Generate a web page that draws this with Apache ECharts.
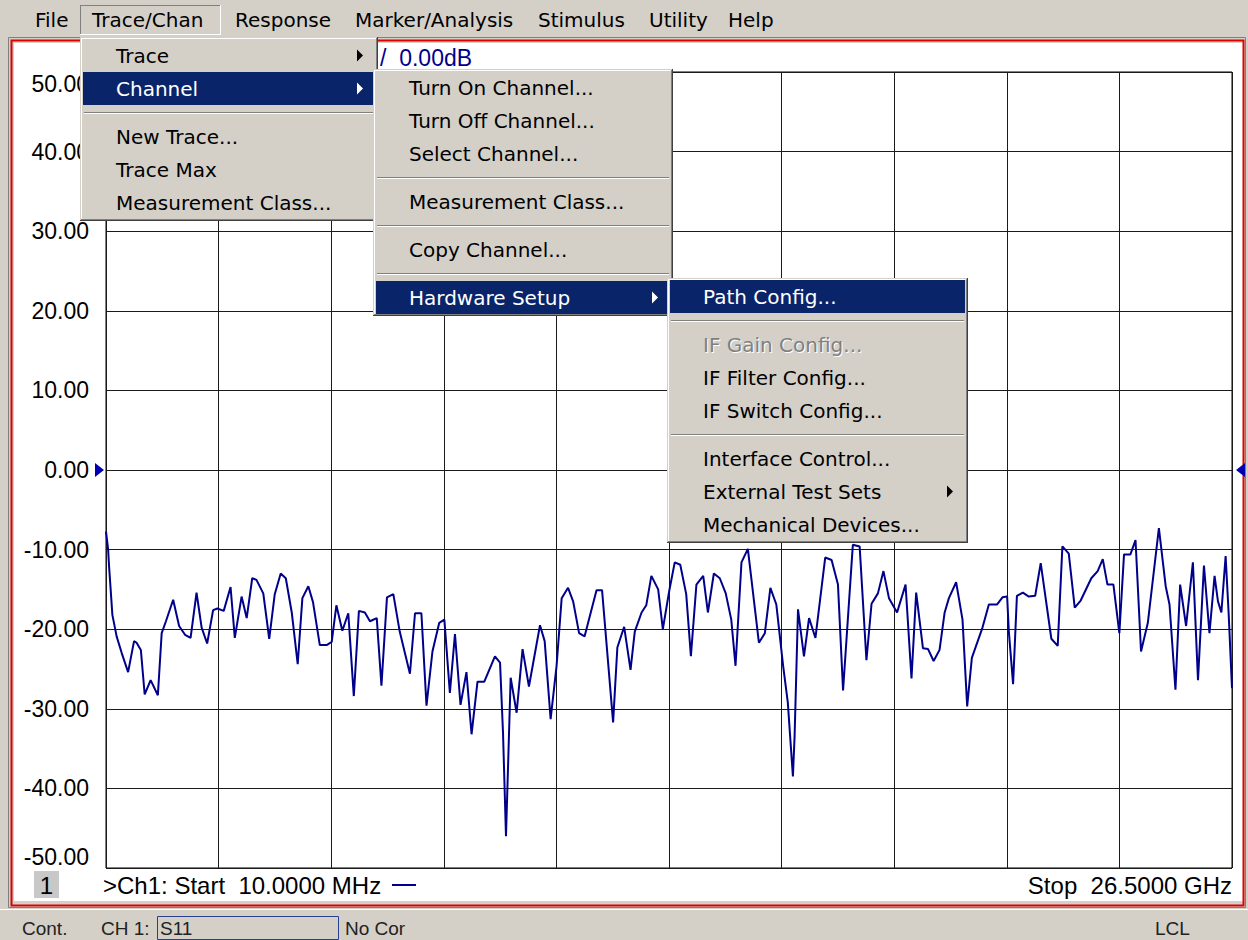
<!DOCTYPE html>
<html><head><meta charset="utf-8">
<script src="https://cdn.jsdelivr.net/npm/echarts@6/dist/echarts.min.js"></script>
<style>html,body{margin:0;padding:0;background:#d4d0c8;}#c{width:1248px;height:940px;}</style>
</head><body><div id="c"></div>
<script>
// ---- data ----
const freqGHz = [0.01,0.06,0.08,0.16,0.26,0.38,0.53,0.67,0.73,0.83,0.92,1.06,1.23,1.32,1.42,1.59,1.73,1.87,2.00,2.14,
2.26,2.39,2.53,2.63,2.78,2.94,3.04,3.20,3.32,3.45,3.55,3.71,3.85,3.98,4.12,4.24,4.38,4.52,4.63,4.77,
4.88,5.04,5.20,5.32,5.43,5.57,5.71,5.84,5.96,6.10,6.22,6.38,6.49,6.62,6.77,6.92,7.16,7.28,7.43,7.55,
7.69,7.85,7.97,8.10,8.22,8.35,8.49,8.61,8.75,8.91,9.16,9.28,9.35,9.42,9.53,9.67,9.81,9.96,10.22,10.33,
10.47,10.61,10.73,10.88,11.00,11.14,11.27,11.55,11.68,11.94,12.04,12.20,12.35,12.45,12.61,12.72,12.84,13.00,13.11,13.26,
13.39,13.52,13.66,13.77,13.90,14.06,14.17,14.31,14.45,14.59,14.72,14.82,14.96,15.11,15.37,15.51,15.64,15.78,15.94,16.05,
16.17,16.21,16.29,16.43,16.55,16.70,16.93,17.08,17.23,17.35,17.58,17.74,17.90,18.02,18.17,18.30,18.43,18.62,18.82,18.96,
19.07,19.23,19.35,19.48,19.62,19.74,19.84,20.01,20.16,20.27,20.38,20.63,20.78,20.97,21.10,21.21,21.25,21.35,21.44,21.58,
21.72,21.87,22.00,22.25,22.40,22.51,22.66,22.80,22.94,23.19,23.34,23.46,23.57,23.71,23.85,23.96,24.11,24.23,24.36,24.52,
24.78,24.94,25.03,25.17,25.28,25.42,25.58,25.70,25.84,25.97,26.09,26.17,26.25,26.35,26.42,26.50];
const s11dB = [-7.7,-10.0,-11.9,-18.2,-20.9,-23.0,-25.4,-21.5,-21.7,-22.6,-28.2,-26.4,-28.3,-20.5,-19.0,-16.3,-19.6,-20.7,-21.1,-15.4,
-19.8,-21.8,-17.6,-17.4,-17.7,-14.7,-21.1,-15.9,-18.6,-13.6,-13.8,-15.5,-21.2,-15.6,-13.0,-13.6,-17.9,-24.4,-16.1,-14.6,
-16.6,-22.0,-22.0,-21.6,-17.0,-20.2,-18.0,-28.4,-17.7,-17.9,-19.0,-18.6,-27.1,-16.0,-15.6,-20.3,-25.6,-18.0,-18.0,-29.6,
-22.8,-19.2,-18.8,-28.0,-20.6,-29.5,-25.4,-33.2,-26.6,-26.6,-23.4,-24.2,-33.0,-46.0,-26.1,-30.5,-22.5,-27.2,-19.5,-21.5,
-31.3,-24.6,-16.1,-14.8,-16.5,-20.5,-20.9,-15.1,-15.1,-31.7,-22.3,-19.7,-25.1,-20.3,-17.9,-17.0,-13.3,-15.0,-20.0,-15.2,
-11.6,-11.9,-15.6,-23.4,-14.4,-13.3,-17.9,-13.0,-13.6,-15.5,-18.8,-24.6,-11.6,-9.9,-21.7,-20.5,-14.8,-16.9,-24.6,-29.2,
-38.5,-33.4,-17.5,-23.4,-18.6,-21.1,-11.0,-11.3,-14.4,-27.7,-9.4,-9.6,-23.9,-16.8,-15.5,-12.7,-16.1,-17.9,-14.4,-26.2,
-15.4,-22.4,-22.5,-24.0,-22.6,-17.9,-16.1,-14.1,-18.8,-29.7,-23.6,-19.8,-16.9,-16.9,-16.0,-15.9,-20.3,-26.9,-15.8,-15.4,
-15.9,-15.8,-11.7,-21.2,-22.1,-9.6,-10.5,-17.3,-16.4,-13.6,-12.7,-11.2,-14.4,-14.4,-20.5,-10.6,-10.6,-8.8,-22.8,-19.2,
-7.3,-14.6,-16.9,-27.6,-14.4,-19.6,-11.6,-26.4,-12.0,-20.5,-13.3,-16.5,-17.9,-10.8,-17.9,-27.4];
const yMin = -50, yMax = 50, yStep = 10;
const xStartGHz = 0.01, xStopGHz = 26.5, xDivisions = 10;
const refLevelDB = 0;

const menuBarItems = ['File','Trace/Chan','Response','Marker/Analysis','Stimulus','Utility','Help'];
const traceChanMenu = [{t:'Trace',sub:1},{t:'Channel',sub:1,hi:1},'-',{t:'New Trace...'},{t:'Trace Max'},{t:'Measurement Class...'}];
const channelMenu = [{t:'Turn On Channel...'},{t:'Turn Off Channel...'},{t:'Select Channel...'},'-',{t:'Measurement Class...'},'-',{t:'Copy Channel...'},'-',{t:'Hardware Setup',sub:1,hi:1}];
const hardwareMenu = [{t:'Path Config...',hi:1},'-',{t:'IF Gain Config...',dis:1},{t:'IF Filter Config...'},{t:'IF Switch Config...'},'-',{t:'Interface Control...'},{t:'External Test Sets',sub:1},{t:'Mechanical Devices...'}];
const titleText = '/  0.00dB';
const startText = '>Ch1: Start  10.0000 MHz';
const stopText = 'Stop  26.5000 GHz';
const channelNum = '1';
const statusTexts = ['Cont.','CH 1:','S11','No Cor','LCL'];

// ---- layout / styles ----
const MENU_FONT = '20px "DejaVu Sans"';
const LAB_FONT = '23px "Liberation Sans"';
const ANN_FONT = '24px "Liberation Sans"';
const ST_FONT = '19px "Liberation Sans"';
const HI = '#0a246a', FACE = '#d4d0c8', TRACE = '#00008b';
const G = {left:106, top:72, width:1126, height:796};

const chart = echarts.init(document.getElementById('c'), null, {renderer:'svg'});
chart.setOption({
  backgroundColor: FACE,
  animation: false,
  grid: {left:G.left, top:G.top, width:G.width, height:G.height, show:true, backgroundColor:'#fff', borderColor:'#000', borderWidth:1},
  xAxis: {type:'value', min:xStartGHz, max:xStopGHz, interval:(xStopGHz-xStartGHz)/xDivisions,
    axisLine:{show:false}, axisTick:{show:false}, axisLabel:{show:false},
    splitLine:{show:true, lineStyle:{color:'#1a1a1a', width:1}}},
  yAxis: {type:'value', min:yMin, max:yMax, interval:yStep,
    axisLine:{show:false}, axisTick:{show:false},
    axisLabel:{show:true, margin:17, color:'#000', fontFamily:'Liberation Sans', fontSize:23,
      formatter: v => v.toFixed(2), verticalAlignMinLabel:'bottom', verticalAlignMaxLabel:'top'},
    splitLine:{show:true, lineStyle:{color:'#1a1a1a', width:1}}},
  series: [{type:'line', data: freqGHz.map((f,i)=>[f, s11dB[i]]), showSymbol:false, symbol:'none',
    lineStyle:{color:TRACE, width:2}, z:3}]
});

const els = [];
function T(x,y,text,fill,font,align,z){ els.push({type:'text', x, y, z:z||100, silent:true,
  style:{text, fill, font, textAlign:align||'left', textVerticalAlign:'middle', align:align||'left', verticalAlign:'middle'}}); }
function R(x,y,w,h,fill,stroke,lw,z){ els.push({type:'rect', z:z||100, silent:true, shape:{x,y,width:w,height:h},
  style:{fill:fill||'none', stroke:stroke||'none', lineWidth:lw||1}}); }
function L(x1,y1,x2,y2,stroke,lw,z){ els.push({type:'line', z:z||100, silent:true, shape:{x1,y1,x2,y2}, style:{stroke, lineWidth:lw||1}}); }
function P(pts,fill,z){ els.push({type:'polygon', z:z||100, silent:true, shape:{points:pts}, style:{fill}}); }

// window panel & frame
R(14,43,1229,858,'#fff',null,1,-10);
R(8.5,37.5,1237,870,'none','#808080',1,-9);
R(11.5,40.5,1232,865,'none','#e00000',2,-9);
// status bar
R(0,909,1248,31,FACE,null,1,50);
L(0,909.5,1248,909.5,'#ffffff',1,51);
const stX = [22,101,160,345,1155];
statusTexts.forEach((s,i)=>T(stX[i],928,s,'#222',ST_FONT,'left',52));
R(157.5,916.5,181,23,'none','#2b3f8f',1,52);

// menu bar
R(0,0,1248,37,FACE,null,1,90);
R(80,5,141,30,FACE,null,1,91);
L(80.5,5,80.5,35,'#808080',1,92); L(80,5.5,221,5.5,'#808080',1,92);
L(220.5,5,220.5,35,'#fff',1,92); L(80,34.5,221,34.5,'#fff',1,92);
const mbX = [35,92,235,355,538,649,728];
menuBarItems.forEach((s,i)=>T(mbX[i],20,s,'#000',MENU_FONT,'left',93));

// title
T(380,58,titleText,TRACE,LAB_FONT,'left',20);
// bottom annotation
R(34,871,25,27,'#c8c8c8',null,1,20);
T(46.5,885,channelNum,'#000',ANN_FONT,'center',21);
T(103,885,startText,'#000',ANN_FONT,'left',20);
L(392,885,416,885,TRACE,2,20);
T(1232,885,stopText,'#000',ANN_FONT,'right',20);

function menu(x,y,w,items,z){
  let h = 4; items.forEach(it=>h += (it==='-')?15:33);
  R(x,y,w,h,FACE,null,1,z);
  L(x+1.5,y+1,x+1.5,y+h-1,'#fff',1,z+1); L(x+1,y+1.5,x+w-1,y+1.5,'#fff',1,z+1);
  L(x+w-1.5,y+1,x+w-1.5,y+h-1,'#808080',1,z+1); L(x+1,y+h-1.5,x+w-1,y+h-1.5,'#808080',1,z+1);
  L(x+w-0.5,y,x+w-0.5,y+h,'#404040',1,z+1); L(x,y+h-0.5,x+w,y+h-0.5,'#404040',1,z+1);
  let cy = y+2;
  items.forEach(it=>{
    if(it==='-'){ L(x+4,cy+7.5,x+w-4,cy+7.5,'#808080',1,z+1); L(x+4,cy+8.5,x+w-4,cy+8.5,'#fff',1,z+1); cy+=15; return; }
    const c = cy+16.5;
    if(it.hi) R(x+3,cy,w-6,33,HI,null,1,z+1);
    if(it.dis){ T(x+37,c+1,it.t,'#fff',MENU_FONT,'left',z+2); T(x+36,c,it.t,'#808080',MENU_FONT,'left',z+3); }
    else T(x+36,c,it.t,it.hi?'#fff':'#000',MENU_FONT,'left',z+3);
    if(it.sub){ const ax = x+w-21; P([[ax,c-6],[ax,c+6],[ax+6,c]], it.hi?'#fff':'#000', z+3); }
    cy += 33;
  });
}
menu(80,37,298,traceChanMenu,110);
menu(373,69,300,channelMenu,120);
menu(667,278,301,hardwareMenu,130);

// reference-level markers at 0 dB, positioned through the y axis
const ry = chart.convertToPixel({yAxisIndex:0}, refLevelDB);
P([[95,ry-7],[95,ry+7],[104,ry]],'#0000b0',30);
P([[1245,ry-7],[1245,ry+7],[1236,ry]],'#0000b0',30);

chart.setOption({graphic:{elements:els}});
</script></body></html>
